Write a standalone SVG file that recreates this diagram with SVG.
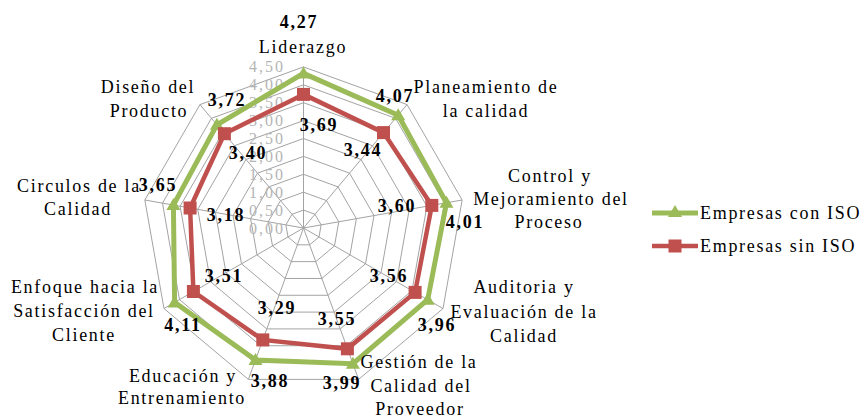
<svg xmlns="http://www.w3.org/2000/svg" width="864" height="419" viewBox="0 0 864 419">
<style>
.grid{fill:none;stroke:#a3a3a3;stroke-width:1}
.t{font-family:"Liberation Serif","Times New Roman",serif;font-size:18px;letter-spacing:1.7px;fill:#000;text-anchor:middle}
.v{font-family:"Liberation Serif","Times New Roman",serif;font-size:18px;letter-spacing:1.7px;font-weight:bold;fill:#000;text-anchor:middle}
.tick{font-family:"Liberation Serif","Times New Roman",serif;font-size:16px;letter-spacing:2px;fill:#b5b5b5;text-anchor:end}
.lg{font-family:"Liberation Serif","Times New Roman",serif;font-size:18px;letter-spacing:1.7px;fill:#000}
.gl{fill:none;stroke:#9bbb59;stroke-width:5;stroke-linejoin:miter}
.rl{fill:none;stroke:#c0504d;stroke-width:4.5;stroke-linejoin:miter}
.gm{fill:#9bbb59}
.rm{fill:#c0504d}
</style>
<defs>
<polygon id="tri" points="0,-7 7,5 -7,5" class="gm"/>
<rect id="sq" x="-6.5" y="-6.5" width="13" height="13" class="rm"/>
</defs>
<rect x="0" y="0" width="864" height="419" fill="#fff"/>
<g id="grid" class="grid" transform="translate(303.5 228)">
<polygon points="0,-17.9 11.51,-13.71 17.63,-3.11 15.50,8.95 6.12,16.82 -6.12,16.82 -15.50,8.95 -17.63,-3.11 -11.51,-13.71"/>
<polygon points="0,-35.8 23.01,-27.42 35.26,-6.21 31.00,17.9 12.24,33.64 -12.24,33.64 -31.00,17.9 -35.26,-6.21 -23.01,-27.42"/>
<polygon points="0,-53.7 34.52,-41.13 52.88,-9.32 46.50,26.85 18.37,50.46 -18.37,50.46 -46.50,26.85 -52.88,-9.32 -34.52,-41.13"/>
<polygon points="0,-71.6 46.02,-54.85 70.51,-12.43 62.01,35.8 24.49,67.28 -24.49,67.28 -62.01,35.8 -70.51,-12.43 -46.02,-54.85"/>
<polygon points="0,-89.5 57.53,-68.56 88.14,-15.54 77.51,44.75 30.61,84.10 -30.61,84.10 -77.51,44.75 -88.14,-15.54 -57.53,-68.56"/>
<polygon points="0,-107.4 69.04,-82.27 105.77,-18.64 93.01,53.7 36.73,100.92 -36.73,100.92 -93.01,53.7 -105.77,-18.64 -69.04,-82.27"/>
<polygon points="0,-125.3 80.54,-95.98 123.40,-21.75 108.51,62.65 42.85,117.74 -42.85,117.74 -108.51,62.65 -123.40,-21.75 -80.54,-95.98"/>
<polygon points="0,-143.2 92.05,-109.69 141.02,-24.86 124.01,71.6 48.97,134.57 -48.97,134.57 -124.01,71.6 -141.02,-24.86 -92.05,-109.69"/>
<polygon points="0,-161.1 103.56,-123.40 158.65,-27.97 139.51,80.55 55.10,151.39 -55.10,151.39 -139.51,80.55 -158.65,-27.97 -103.56,-123.40"/>
<path d="M0,0V-161.1M0,0L103.56,-123.40M0,0L158.65,-27.97M0,0L139.51,80.55M0,0L55.10,151.39M0,0L-55.10,151.39M0,0L-139.51,80.55M0,0L-158.65,-27.97M0,0L-103.56,-123.40"/>
</g>
<g id="axis-ticks">
<text class="tick" x="285" y="233.5">0,00</text>
<text class="tick" x="285" y="215.6">0,50</text>
<text class="tick" x="285" y="197.7">1,00</text>
<text class="tick" x="285" y="179.8">1,50</text>
<text class="tick" x="285" y="161.9">2,00</text>
<text class="tick" x="285" y="144">2,50</text>
<text class="tick" x="285" y="126.1">3,00</text>
<text class="tick" x="285" y="108.2">3,50</text>
<text class="tick" x="285" y="90.3">4,00</text>
<text class="tick" x="285" y="72.4">4,50</text>
</g>
<g id="connectors">
<polygon class="gl" points="303.5,73.4 398.2,115.2 446.5,202.8 427.7,299.7 352.9,363.7 255.5,360.0 174.6,302.4 173.4,205.1 216.9,124.8"/>
<polygon class="rl" points="303.5,94.4 383.5,132.6 431.8,205.4 415.1,292.4 347.4,348.8 262.8,339.9 193.4,291.5 190.1,208.0 224.4,133.7"/>
<g id="markers-con">
<use href="#tri" x="303.5" y="73.4"/><use href="#tri" x="398.2" y="115.2"/><use href="#tri" x="446.5" y="202.8"/>
<use href="#tri" x="427.7" y="299.7"/><use href="#tri" x="352.9" y="363.7"/><use href="#tri" x="255.5" y="360.0"/>
<use href="#tri" x="174.6" y="302.4"/><use href="#tri" x="173.4" y="205.1"/><use href="#tri" x="216.9" y="124.8"/>
</g>
<g id="markers-sin">
<use href="#sq" x="303.5" y="94.4"/><use href="#sq" x="383.5" y="132.6"/><use href="#sq" x="431.8" y="205.4"/>
<use href="#sq" x="415.1" y="292.4"/><use href="#sq" x="347.4" y="348.8"/><use href="#sq" x="262.8" y="339.9"/>
<use href="#sq" x="193.4" y="291.5"/><use href="#sq" x="190.1" y="208.0"/><use href="#sq" x="224.4" y="133.7"/>
</g>
</g>
<g id="liderazgo">
<text class="t" x="303" y="53">Liderazgo</text>
<text class="v" x="299" y="28">4,27</text>
<text class="v" x="319" y="131">3,69</text>
</g>
<g id="planeamiento">
<text class="t" x="486" y="93">Planeamiento de</text>
<text class="t" x="486" y="117">la calidad</text>
<text class="v" x="395" y="102">4,07</text>
<text class="v" x="363" y="156">3,44</text>
</g>
<g id="control">
<text class="t" x="550" y="182">Control y</text>
<text class="t" x="551" y="205">Mejoramiento del</text>
<text class="t" x="549" y="228">Proceso</text>
<text class="v" x="465" y="228">4,01</text>
<text class="v" x="397" y="212">3,60</text>
</g>
<g id="auditoria">
<text class="t" x="524" y="293">Auditoria y</text>
<text class="t" x="524" y="318">Evaluación de la</text>
<text class="t" x="524" y="342">Calidad</text>
<text class="v" x="437" y="331">3,96</text>
<text class="v" x="389" y="282">3,56</text>
</g>
<g id="gestion">
<text class="t" x="419" y="368">Gestión de la</text>
<text class="t" x="421" y="392">Calidad del</text>
<text class="t" x="420" y="415">Proveedor</text>
<text class="v" x="342" y="389">3,99</text>
<text class="v" x="337" y="325">3,55</text>
</g>
<g id="educacion">
<text class="t" x="183" y="382">Educación y</text>
<text class="t" x="182" y="404">Entrenamiento</text>
<text class="v" x="270" y="387">3,88</text>
<text class="v" x="277" y="314">3,29</text>
</g>
<g id="enfoque">
<text class="t" x="85" y="293">Enfoque hacia la</text>
<text class="t" x="84" y="317">Satisfacción del</text>
<text class="t" x="84" y="341">Cliente</text>
<text class="v" x="183" y="331">4,11</text>
<text class="v" x="224" y="282">3,51</text>
</g>
<g id="circulos">
<text class="t" x="79" y="192">Circulos de la</text>
<text class="t" x="78" y="215">Calidad</text>
<text class="v" x="158" y="191">3,65</text>
<text class="v" x="226" y="221">3,18</text>
</g>
<g id="diseno">
<text class="t" x="148" y="93">Diseño del</text>
<text class="t" x="149" y="117">Producto</text>
<text class="v" x="227" y="106">3,72</text>
<text class="v" x="248" y="159">3,40</text>
</g>
<g id="legend">
<line x1="652" y1="213" x2="698" y2="213" stroke="#9bbb59" stroke-width="5"/>
<use href="#tri" x="675" y="212"/>
<text class="lg" x="700" y="219">Empresas con ISO</text>
<line x1="652" y1="246" x2="698" y2="246" stroke="#c0504d" stroke-width="4.5"/>
<use href="#sq" x="675" y="246"/>
<text class="lg" x="700" y="252">Empresas sin ISO</text>
</g>
</svg>
